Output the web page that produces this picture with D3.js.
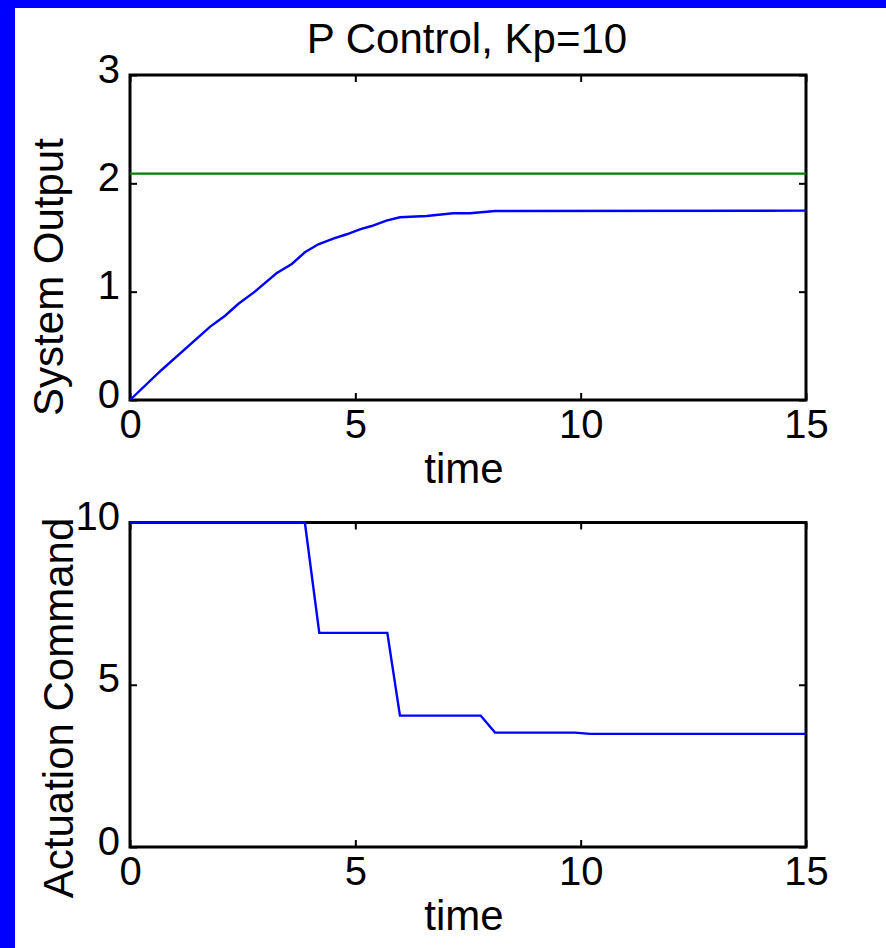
<!DOCTYPE html>
<html>
<head>
<meta charset="utf-8">
<script src="https://cdn.jsdelivr.net/npm/d3@7"></script>
<style>
  html, body { margin: 0; padding: 0; background: #fff; }
  text { font-family: "Liberation Sans", Arial, Helvetica, sans-serif; fill: #000; }
</style>
</head>
<body>
<div id="chart"></div>
<script>
// system output (top panel)
const outTime = [0, 0.7, 1.78, 2.11, 2.40, 2.77, 3.25, 3.59, 3.88, 4.18, 4.51, 4.81, 5.10, 5.36, 5.69, 5.99, 6.58, 7.17, 7.54, 8.10, 15];
const outValue = [0, 0.277, 0.677, 0.778, 0.886, 1.0, 1.17, 1.256, 1.363, 1.437, 1.49, 1.53, 1.575, 1.606, 1.655, 1.687, 1.699, 1.724, 1.724, 1.745, 1.748];
// reference level
const refTime = [0, 15];
const refValue = [2.09, 2.09];
// actuation command (bottom panel)
const cmdTime = [0, 3.88, 4.2, 5.71, 5.99, 7.78, 8.10, 9.87, 10.21, 15];
const cmdValue = [10, 10, 6.6, 6.6, 4.05, 4.05, 3.525, 3.525, 3.485, 3.485];

const xTicks = [0, 5, 10, 15];
const yTicksTop = [0, 1, 2, 3];
const yTicksBottom = [0, 5, 10];

const W = 886, H = 948;
const left = 130, right = 806;

const svg = d3.select("#chart").append("svg")
    .attr("width", W)
    .attr("height", H);

// blue frame strips
svg.append("rect").attr("x", 0).attr("y", 0).attr("width", W).attr("height", H).attr("fill", "#0000ff");
svg.append("rect").attr("x", 15).attr("y", 8).attr("width", W - 15).attr("height", H - 8).attr("fill", "#fff");

function panel(top, bottom, yMax, yTicks, series, ylabel, ylabelX, ylabelY) {
    const x = d3.scaleLinear().domain([0, 15]).range([left, right]);
    const y = d3.scaleLinear().domain([0, yMax]).range([bottom, top]);
    const g = svg.append("g");

    const ax = g.append("g").attr("transform", `translate(0,${bottom})`)
        .call(d3.axisBottom(x).tickValues(xTicks).tickSizeInner(-7).tickSizeOuter(0).tickFormat(d3.format("d")));
    ax.selectAll("text").attr("dy", null).attr("y", 38).style("font-size", "40px");

    g.append("g").attr("transform", `translate(0,${top})`)
        .call(d3.axisTop(x).tickValues(xTicks).tickSizeInner(-7).tickSizeOuter(0).tickFormat(""));

    const ay = g.append("g").attr("transform", `translate(${left},0)`)
        .call(d3.axisLeft(y).tickValues(yTicks).tickSizeInner(-7).tickSizeOuter(0).tickFormat(d3.format("d")));
    ay.selectAll("text").attr("x", -10).attr("dy", "0.18em").style("font-size", "40px");

    g.append("g").attr("transform", `translate(${right},0)`)
        .call(d3.axisRight(y).tickValues(yTicks).tickSizeInner(-7).tickSizeOuter(0).tickFormat(""));

    g.selectAll(".domain").remove();
    g.selectAll(".tick line").attr("stroke", "#000").attr("stroke-width", 2);

    g.append("rect")
        .attr("x", left).attr("y", top)
        .attr("width", right - left).attr("height", bottom - top)
        .attr("fill", "none").attr("stroke", "#000").attr("stroke-width", 3);

    const line = d3.line().x(d => x(d[0])).y(d => y(d[1]));
    series.forEach(s => {
        g.append("path")
            .datum(d3.zip(s.t, s.v))
            .attr("d", line)
            .attr("fill", "none")
            .attr("stroke", s.color)
            .attr("stroke-width", 2.4);
    });

    g.append("text")
        .attr("x", (left + right) / 2 - 4)
        .attr("y", bottom + 83)
        .attr("text-anchor", "middle")
        .style("font-size", "42px")
        .text("time");

    g.append("text")
        .attr("transform", `translate(${ylabelX},${ylabelY}) rotate(-90)`)
        .attr("text-anchor", "middle")
        .style("font-size", "42px")
        .text(ylabel);
}

panel(75, 400, 3, yTicksTop, [
    { t: refTime, v: refValue, color: "#008000" },
    { t: outTime, v: outValue, color: "#0000ff" }
], "System Output", 63, 277);

panel(522.5, 847, 10, yTicksBottom, [
    { t: cmdTime, v: cmdValue, color: "#0000ff" }
], "Actuation Command", 73, 708);

svg.append("text")
    .attr("x", 467)
    .attr("y", 53)
    .attr("text-anchor", "middle")
    .style("font-size", "42px")
    .text("P Control, Kp=10");
</script>
</body>
</html>
